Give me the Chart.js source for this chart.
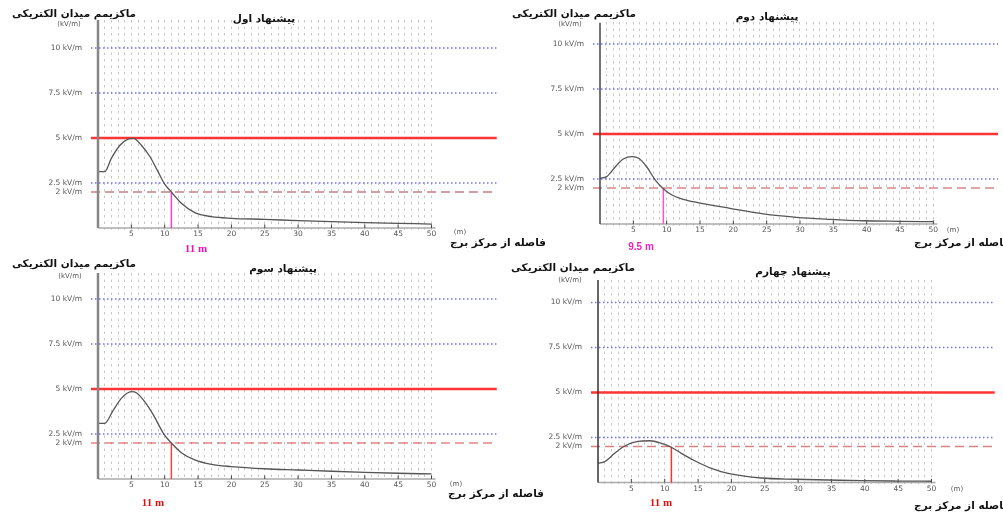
<!DOCTYPE html>
<html>
<head>
<meta charset="utf-8">
<script src="https://cdn.jsdelivr.net/npm/chart.js@4.4.1/dist/chart.umd.min.js"></script>
<style>
  html, body { margin: 0; padding: 0; background: #fff; }
  #wrap { position: relative; width: 1003px; height: 513px; overflow: hidden; background: #fff; }
  #wrap canvas { position: absolute; left: 0; top: 0; }
</style>
</head>
<body>
<div id="wrap">
  <canvas id="c1" width="1003" height="513"></canvas>
  <canvas id="c2" width="1003" height="513"></canvas>
  <canvas id="c3" width="1003" height="513"></canvas>
  <canvas id="c4" width="1003" height="513"></canvas>
</div>
<script>
// textes
const titres = ['پیشنهاد اول', 'پیشنهاد دوم', 'پیشنهاد سوم', 'پیشنهاد چهارم'];
const titreY = 'ماکزیمم میدان الکتریکی';
const uniteY = '(kV/m)';
const titreX = 'فاصله از مرکز برج';
const uniteX = '(m)';

// ticks
const ticksX = [5, 10, 15, 20, 25, 30, 35, 40, 45, 50];
const ticksY = [2, 2.5, 5, 7.5, 10];
const grilleX = [1,2,3,4,5,6,7,8,9,10,11,12,13,14,15,16,17,18,19,20,21,22,23,24,25,
  26,27,28,29,30,31,32,33,34,35,36,37,38,39,40,41,42,43,44,45,46,47,48,49,50];

// seuils (kV/m)
const seuilsBleus = [10, 7.5, 2.5];
const seuilRouge = 5;
const seuilTirets = 2;

// points ou le champ tombe a 2 kV/m
const distMarque = [11, 9.5, 11, 11];
const etiqMarque = ['11 m', '9.5 m', '11 m', '11 m'];

// courbes
const dist1 = [0, 1, 2, 3.3, 4.5, 5.3, 6.5, 7.8, 9, 10, 11, 12.5, 14.5, 17, 20, 25, 30, 35, 40, 45, 50];
const champ1 = [3.13, 3.13, 3.87, 4.6, 4.94, 4.98, 4.6, 3.96, 3.13, 2.44, 2.0, 1.37, 0.85, 0.63, 0.54, 0.48, 0.41, 0.35, 0.30, 0.26, 0.22];

const dist2 = [0, 1, 2.3, 3.5, 4.8, 5.8, 7, 8.3, 9.5, 10.8, 12.5, 14.5, 19.5, 24.5, 29.5, 34.5, 39.5, 45, 50];
const champ2 = [2.54, 2.63, 3.18, 3.61, 3.74, 3.65, 3.18, 2.44, 1.96, 1.61, 1.37, 1.2, 0.87, 0.56, 0.37, 0.26, 0.18, 0.15, 0.13];

const dist3 = [0, 1, 2.3, 3.5, 5, 5.8, 7, 8.3, 9.8, 11, 12.5, 14.5, 17, 20, 25, 30, 35, 40, 45, 50];
const champ3 = [3.09, 3.09, 3.83, 4.48, 4.85, 4.78, 4.30, 3.56, 2.54, 2.0, 1.46, 1.06, 0.81, 0.69, 0.57, 0.5, 0.43, 0.37, 0.32, 0.28];

const dist4 = [0, 1, 2.5, 4, 6, 7.8, 9.5, 11, 12.5, 14.5, 17, 19.5, 24.5, 29.5, 34.5, 39.5, 45, 50];
const champ4 = [1.07, 1.16, 1.62, 2.03, 2.29, 2.32, 2.18, 1.96, 1.62, 1.21, 0.79, 0.51, 0.25, 0.18, 0.14, 0.1, 0.08, 0.07];

const fontAr = 'bold 10.5px "DejaVu Sans"';
const fontPetit = '7px "DejaVu Sans"';

// mise en page de chaque panneau (pixels de la page)
const panneaux = [
  { id: 'c1', dist: dist1, champ: champ1, n: 0,
    ox: 98, oy: 228, xMin: -1.05, xMax: 59.8, yMax: 11.56,
    axeCouleur: '#868686', axeLarg: 2.5, tiretCouleur: '#d0a0a0', tiretLarg: 2,
    marqueCouleur: '#ff3ccc', etiqCouleur: '#ee11bb', etiqFont: 'bold 11px "Liberation Serif"',
    pTitreY: [74, 14], pUnite: [69, 24], pTitre: [264, 19], pM: [460, 232], pTitreX: [498, 243, 'center'], pEtiq: [196, 249] },
  { id: 'c2', dist: dist2, champ: champ2, n: 1,
    ox: 600, oy: 224, xMin: -1.05, xMax: 59.7, yMax: 11.2,
    axeCouleur: '#444', axeLarg: 1.5, tiretCouleur: '#c04a4a', tiretLarg: 1,
    marqueCouleur: '#ff55cc', etiqCouleur: '#ee22bb', etiqFont: 'bold 10px "Liberation Sans"',
    pTitreY: [574, 14], pUnite: [570, 24], pTitre: [767, 17], pM: [953, 230], pTitreX: [1010, 243, 'right'], pEtiq: [641, 247] },
  { id: 'c3', dist: dist3, champ: champ3, n: 2,
    ox: 98, oy: 479, xMin: -1.05, xMax: 59.8, yMax: 11.45,
    axeCouleur: '#868686', axeLarg: 2.5, tiretCouleur: '#d84848', tiretLarg: 1.2,
    marqueCouleur: '#ff4040', etiqCouleur: '#e01010', etiqFont: 'bold 11px "Liberation Serif"',
    pTitreY: [74, 264], pUnite: [70, 276], pTitre: [283, 269], pM: [456, 484], pTitreX: [496, 494, 'center'], pEtiq: [153, 503] },
  { id: 'c4', dist: dist4, champ: champ4, n: 3,
    ox: 598, oy: 482.5, xMin: -1.05, xMax: 59.5, yMax: 11.25,
    axeCouleur: '#333', axeLarg: 1.5, tiretCouleur: '#d88484', tiretLarg: 1.6,
    marqueCouleur: '#ff3030', etiqCouleur: '#e01010', etiqFont: 'bold 11px "Liberation Serif"',
    pTitreY: [573, 268], pUnite: [570, 280], pTitre: [793, 272], pM: [957, 489], pTitreX: [1010, 506, 'right'], pEtiq: [661, 503] }
];

const PX_X = 6.67, PX_Y = 18, Y_MIN = -0.1, LARG_Y = 60, HAUT_X = 14;

function ligneH(y, x1, x2) {
  return [{ x: x1, y: y }, { x: x2, y: y }];
}

function dessinerTextes(ctx, items) {
  ctx.save();
  ctx.textBaseline = 'middle';
  items.forEach(t => {
    ctx.font = t.font;
    ctx.fillStyle = t.color;
    ctx.textAlign = t.align || 'center';
    ctx.fillText(t.text, t.x, t.y);
  });
  ctx.restore();
}

panneaux.forEach(p => {
  const gauche = p.ox + p.xMin * PX_X;
  const droite = p.ox + p.xMax * PX_X;
  const haut = p.oy - p.yMax * PX_Y;
  const bas = p.oy - Y_MIN * PX_Y;

  const textes = [
    { text: titreY, x: p.pTitreY[0], y: p.pTitreY[1], font: fontAr, color: '#111' },
    { text: uniteY, x: p.pUnite[0], y: p.pUnite[1], font: fontPetit, color: '#555' },
    { text: titres[p.n], x: p.pTitre[0], y: p.pTitre[1], font: fontAr, color: '#111' },
    { text: uniteX, x: p.pM[0], y: p.pM[1], font: fontPetit, color: '#555' },
    { text: titreX, x: p.pTitreX[0], y: p.pTitreX[1], font: fontAr, color: '#111', align: p.pTitreX[2] },
    { text: etiqMarque[p.n], x: p.pEtiq[0], y: p.pEtiq[1], font: p.etiqFont, color: p.etiqCouleur }
  ];

  const datasets = [
    { // courbe du champ
      data: p.dist.map((d, i) => ({ x: d, y: p.champ[i] })),
      borderColor: '#555', borderWidth: 1.3, pointRadius: 0,
      cubicInterpolationMode: 'monotone', order: 1
    },
    { // axe vertical
      data: [{ x: 0, y: 0 }, { x: 0, y: p.yMax }],
      borderColor: p.axeCouleur, borderWidth: p.axeLarg, pointRadius: 0, order: 0
    },
    { // axe horizontal
      data: ligneH(0, 0, 50.6),
      borderColor: '#aaa', borderWidth: 1.5, pointRadius: 0, order: 5, clip: false
    },
    { // graduations
      data: ticksX.map(v => ({ x: v, y: 0.1 })),
      showLine: false, pointStyle: 'line', rotation: 90, pointRadius: 1.8,
      borderColor: '#444', borderWidth: 1, order: 4
    },
    { // seuil 5 kV/m
      data: ligneH(seuilRouge, p.xMin, p.xMax),
      borderColor: '#ff3333', borderWidth: 2.5, pointRadius: 0, order: 3
    },
    { // seuil 2 kV/m
      data: ligneH(seuilTirets, p.xMin, p.xMax),
      borderColor: p.tiretCouleur, borderWidth: p.tiretLarg, borderDash: [9, 5], pointRadius: 0, order: 3
    },
    { // distance a 2 kV/m
      data: [{ x: distMarque[p.n], y: 0 }, { x: distMarque[p.n], y: seuilTirets }],
      borderColor: p.marqueCouleur, borderWidth: 1.5, pointRadius: 0, order: 2
    }
  ];
  seuilsBleus.forEach(s => {
    datasets.push({
      data: ligneH(s, p.xMin, p.xMax),
      borderColor: '#6a70ff', borderWidth: 1.4, borderDash: [1.5, 2.5], pointRadius: 0, order: 3
    });
  });

  new Chart(document.getElementById(p.id), {
    type: 'line',
    data: { datasets: datasets },
    options: {
      responsive: false,
      animation: false,
      events: [],
      layout: {
        padding: {
          left: gauche - LARG_Y,
          right: 1003 - droite,
          top: haut,
          bottom: 513 - bas - HAUT_X
        }
      },
      plugins: { legend: { display: false }, title: { display: false }, tooltip: { enabled: false } },
      scales: {
        x: {
          type: 'linear', min: p.xMin, max: p.xMax,
          afterBuildTicks: s => { s.ticks = ticksX.map(v => ({ value: v })); },
          afterFit: s => { s.height = HAUT_X; },
          grid: { display: false, drawTicks: false },
          border: { display: false },
          ticks: { padding: 0, color: '#555', font: { family: 'DejaVu Sans', size: 7.5 }, maxRotation: 0, callback: v => String(v) }
        },
        xg: {
          type: 'linear', position: 'top', min: p.xMin, max: p.xMax,
          afterBuildTicks: s => { s.ticks = grilleX.map(v => ({ value: v })); },
          afterFit: s => { s.height = 0; },
          grid: { color: '#c6c6c6', lineWidth: 1, drawTicks: false },
          border: { display: false, dash: [2.5, 4] },
          ticks: { display: false }
        },
        y: {
          type: 'linear', min: Y_MIN, max: p.yMax,
          afterBuildTicks: s => { s.ticks = ticksY.map(v => ({ value: v })); },
          afterFit: s => { s.width = LARG_Y; },
          grid: { display: false, drawTicks: false },
          border: { display: false },
          ticks: { padding: 9, color: '#555', font: { family: 'DejaVu Sans', size: 7.5 }, callback: v => v + ' kV/m' }
        }
      }
    },
    plugins: [{ id: 'textes', afterDraw: chart => dessinerTextes(chart.ctx, textes) }]
  });
});
</script>
</body>
</html>
